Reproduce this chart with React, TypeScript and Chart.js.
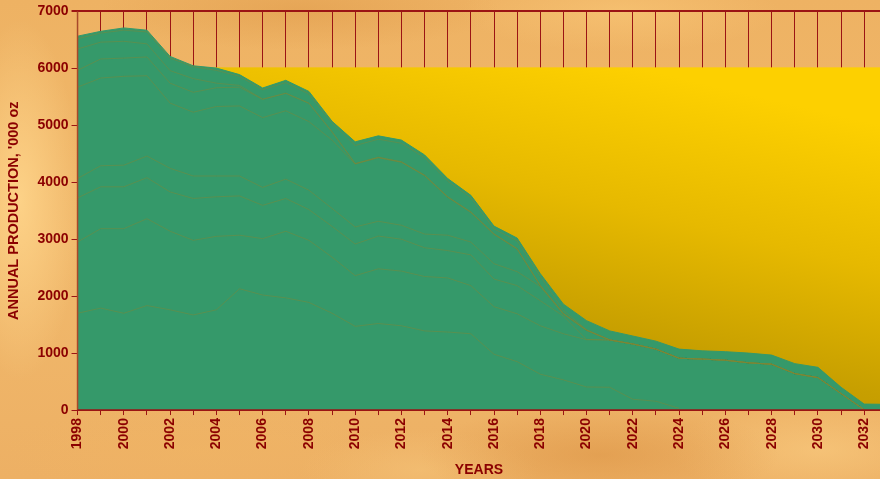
import React, { useEffect, useRef } from "react";
import { Chart, registerables } from "chart.js";

Chart.register(...registerables);

const years = [
  1998, 1999, 2000, 2001, 2002, 2003, 2004, 2005, 2006, 2007, 2008, 2009,
  2010, 2011, 2012, 2013, 2014, 2015, 2016, 2017, 2018, 2019, 2020, 2021,
  2022, 2023, 2024, 2025, 2026, 2027, 2028, 2029, 2030, 2031, 2032, 2033,
];

// Total production (top of the stacked area), '000 oz
const totalProduction = [
  6565, 6650, 6710, 6670, 6210, 6045, 6005, 5890, 5655, 5790, 5595, 5070,
  4710, 4815, 4740, 4480, 4065, 3770, 3230, 3020, 2395, 1860, 1570, 1390,
  1300, 1210, 1070, 1040, 1025, 1000, 965, 815, 750, 400, 105, 100,
];

// Cumulative layer boundaries inside the area (top to bottom)
const layer1 = [
  6520, 6620, 6670, 6640, 6180, 6030, 5965, 5860, 5625, 5750, 5550, 5045,
  4645, 4755, 4685, 4430, 4020, 3730, 3180, 2970, 2350, 1750, 1410, 1235,
  1160, 1070, 910, 895, 875, 830, 805, 640, 570, 290, 5, null,
];
const layer2 = [
  6340, 6460, 6475, 6430, 5960, 5820, 5740, 5700, 5460, 5565, 5390, 4890,
  4330, 4440, 4360, 4125, 3745, 3480, 3095, 2835, 2190, 1700, 1405, 1232,
  1160, 1070, 910, 895, 875, 830, 805, 640, 570, 290, 5, null,
];
const layer3 = [
  5965, 6165, 6180, 6200, 5740, 5580, 5660, 5670, 5455, 5560, 5385, 4880,
  4325, 4435, 4355, 4120, 3740, 3475, 3090, 2830, 2185, 1695, 1400, 1231,
  1160, 1070, 910, 895, 875, 830, 805, 640, 570, 290, 5, null,
];
const layer4 = [
  5670, 5830, 5860, 5870, 5390, 5230, 5330, 5340, 5135, 5255, 5065, 4740,
  4320, 4430, 4350, 4115, 3735, 3470, 3085, 2825, 2180, 1690, 1400, 1230,
  1160, 1070, 910, 895, 875, 830, 805, 640, 570, 290, 5, null,
];
const layer5 = [
  4065, 4290, 4300, 4460, 4245, 4110, 4110, 4110, 3910, 4055, 3860, 3540,
  3215, 3315, 3245, 3090, 3070, 2950, 2570, 2430, 2170, 1680, 1400, 1230,
  1160, 1070, 910, 895, 875, 830, 805, 640, 570, 290, 5, null,
];
const layer6 = [
  3725, 3920, 3920, 4080, 3830, 3715, 3745, 3760, 3595, 3715, 3520, 3225,
  2915, 3055, 3000, 2850, 2800, 2725, 2300, 2185, 1920, 1650, 1240, 1230,
  1160, 1070, 910, 895, 875, 830, 805, 640, 570, 290, 5, null,
];
const layer7 = [
  2950, 3185, 3185, 3360, 3140, 2980, 3050, 3070, 3010, 3140, 2980, 2685,
  2360, 2480, 2440, 2345, 2320, 2185, 1815, 1690, 1480, 1340, 1235, 1230,
  1160, 1070, 910, 895, 875, 830, 805, 640, 570, 290, 5, null,
];
const layer8 = [
  1700, 1790, 1700, 1835, 1760, 1670, 1760, 2130, 2020, 1970, 1890, 1700,
  1470, 1520, 1480, 1390, 1370, 1340, 980, 850, 630, 530, 405, 400,
  190, 155, 30, null, null, null, null, null, null, null, null, null,
];

const yTicks = [0, 1000, 2000, 3000, 4000, 5000, 6000, 7000];

const DARK_RED = "#8B0000";
const GRID_RED = "#9b1414";
const GREEN = "#35996a";
const FONT = "'Liberation Sans', Arial, sans-serif";

function pts(arr: (number | null)[]) {
  return years.map((x, i) => ({ x, y: arr[i] }));
}

const goldPlugin = {
  id: "goldBand",
  beforeDatasetsDraw(chart: any) {
    const { ctx, chartArea: a, scales } = chart;
    const y = scales.y;
    const top = y.getPixelForValue(6000);
    const w = a.right - a.left;
    const g = ctx.createLinearGradient(a.left + 0.6 * w, a.bottom, a.left + 0.7 * w, top);
    g.addColorStop(0, "#bb9200");
    g.addColorStop(0.25, "#c79f00");
    g.addColorStop(0.6, "#e6b900");
    g.addColorStop(1, "#fdd000");
    ctx.save();
    ctx.fillStyle = g;
    ctx.fillRect(a.left, top - 1, w, a.bottom - top + 1);
    ctx.restore();
  },
  afterDatasetsDraw(chart: any) {
    const { ctx, chartArea: a } = chart;
    ctx.save();
    ctx.lineWidth = 1.5;
    ctx.strokeStyle = "#a8482a";
    ctx.beginPath();
    ctx.moveTo(a.left, a.top);
    ctx.lineTo(a.left, a.bottom);
    ctx.stroke();
    ctx.strokeStyle = GRID_RED;
    ctx.beginPath();
    ctx.moveTo(a.left, a.bottom);
    ctx.lineTo(a.right, a.bottom);
    ctx.stroke();
    ctx.restore();
  },
};

export default function App() {
  const ref = useRef<HTMLCanvasElement | null>(null);

  useEffect(() => {
    document.body.style.margin = "0";
    const canvas = ref.current;
    if (!canvas) return;
    const innerLine = (arr: (number | null)[]) => ({
      data: pts(arr),
      borderColor: "rgba(125,135,55,0.5)",
      borderWidth: 1,
      pointRadius: 0,
      fill: false,
      tension: 0,
      spanGaps: false,
    });
    const chart = new Chart(canvas, {
      type: "line",
      data: {
        datasets: [
          innerLine(layer1),
          innerLine(layer2),
          innerLine(layer3),
          innerLine(layer4),
          innerLine(layer5),
          innerLine(layer6),
          innerLine(layer7),
          innerLine(layer8),
          {
            data: pts(totalProduction),
            borderColor: GREEN,
            backgroundColor: GREEN,
            borderWidth: 1,
            pointRadius: 0,
            fill: "origin",
            tension: 0,
          },
        ],
      },
      options: {
        animation: false,
        responsive: false,
        maintainAspectRatio: false,
        layout: { padding: { left: 0, top: 8, right: 0, bottom: 0 } },
        plugins: { legend: { display: false }, tooltip: { enabled: false } },
        scales: {
          x: {
            type: "linear",
            min: 1998,
            max: 2032.7,
            border: { display: false },
            grid: { color: GRID_RED, lineWidth: 1, tickLength: 5 },
            ticks: {
              stepSize: 1,
              autoSkip: false,
              includeBounds: false,
              maxRotation: 90,
              minRotation: 90,
              padding: 3,
              color: DARK_RED,
              font: { family: FONT, size: 14, weight: "bold" },
              callback: (v: any) => (Number(v) % 2 === 0 ? String(v) : ""),
            },
            title: {
              display: true,
              text: "YEARS",
              color: DARK_RED,
              font: { family: FONT, size: 14, weight: "bold" },
              padding: { top: 10, bottom: 0 },
            },
          },
          y: {
            min: 0,
            max: 7000,
            border: { display: false },
            afterBuildTicks: (s: any) => {
              s.ticks = yTicks.map((v) => ({ value: v }));
            },
            grid: {
              color: GRID_RED,
              lineWidth: (c: any) => (c.tick && c.tick.value === 7000 ? 2 : 1),
              tickLength: 6,
            },
            ticks: {
              padding: 3,
              color: DARK_RED,
              font: { family: FONT, size: 14, weight: "bold" },
              callback: (v: any) => String(v),
            },
            title: {
              display: true,
              text: "ANNUAL PRODUCTION, '000 oz",
              color: DARK_RED,
              font: { family: FONT, size: 14.5, weight: "bold" },
              padding: { top: 5, bottom: 12 },
            },
          },
        },
      },
      plugins: [goldPlugin],
    } as any);
    return () => chart.destroy();
  }, []);

  const bg = [
    "radial-gradient(ellipse 60px 180px at 20px 200px, rgba(255,214,140,0.85), rgba(255,214,140,0) 100%)",
    "radial-gradient(ellipse 200px 40px at 300px 10px, rgba(220,150,70,0.45), rgba(220,150,70,0) 100%)",
    "radial-gradient(ellipse 160px 40px at 620px 12px, rgba(250,200,120,0.6), rgba(250,200,120,0) 100%)",
    "radial-gradient(ellipse 200px 50px at 200px 450px, rgba(240,180,100,0.6), rgba(240,180,100,0) 100%)",
    "radial-gradient(ellipse 180px 50px at 600px 455px, rgba(215,140,60,0.45), rgba(215,140,60,0) 100%)",
    "radial-gradient(ellipse 150px 50px at 820px 450px, rgba(250,205,130,0.6), rgba(250,205,130,0) 100%)",
    "radial-gradient(ellipse 120px 40px at 420px 470px, rgba(245,195,120,0.6), rgba(245,195,120,0) 100%)",
    "linear-gradient(180deg, #eeb263 0%, #f1b96c 50%, #edb064 100%)",
  ].join(", ");

  return (
    <div
      style={{
        position: "fixed",
        left: 0,
        top: 0,
        width: 880,
        height: 479,
        background: bg,
        overflow: "hidden",
      }}
    >
      <canvas ref={ref} width={884} height={479} style={{ display: "block", width: 884, height: 479 }} />
    </div>
  );
}
